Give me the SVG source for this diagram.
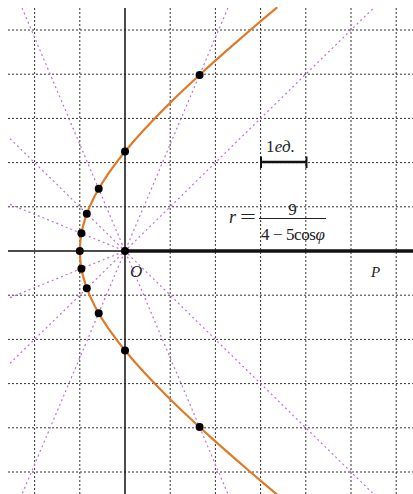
<svg xmlns="http://www.w3.org/2000/svg" width="413" height="494" viewBox="0 0 413 494">
<style>
.grid{stroke:#333;stroke-width:1;stroke-dasharray:2,2;fill:none}
.ray{stroke:#c070d0;stroke-width:1.2;stroke-dasharray:2,3;fill:none}
.axis{stroke:#111;fill:none}
.curve{stroke:#e07a28;stroke-width:2.2;fill:none;stroke-linejoin:round;stroke-linecap:round}
.pt{fill:#000}
.lbl{font-family:"Liberation Serif","DejaVu Serif",serif;fill:#222}
</style>
<rect width="413" height="494" fill="#fff"/>
<g id="grid">
<line class="grid" x1="34.6" y1="8" x2="34.6" y2="494"/>
<line class="grid" x1="79.8" y1="8" x2="79.8" y2="494"/>
<line class="grid" x1="170.2" y1="8" x2="170.2" y2="494"/>
<line class="grid" x1="215.4" y1="8" x2="215.4" y2="494"/>
<line class="grid" x1="260.6" y1="8" x2="260.6" y2="494"/>
<line class="grid" x1="305.8" y1="8" x2="305.8" y2="494"/>
<line class="grid" x1="351" y1="8" x2="351" y2="494"/>
<line class="grid" x1="396.2" y1="8" x2="396.2" y2="494"/>
<line class="grid" x1="8" y1="30" x2="413" y2="30"/>
<line class="grid" x1="8" y1="74.2" x2="413" y2="74.2"/>
<line class="grid" x1="8" y1="118.4" x2="413" y2="118.4"/>
<line class="grid" x1="8" y1="162.6" x2="413" y2="162.6"/>
<line class="grid" x1="8" y1="206.8" x2="413" y2="206.8"/>
<line class="grid" x1="8" y1="295.2" x2="413" y2="295.2"/>
<line class="grid" x1="8" y1="339.4" x2="413" y2="339.4"/>
<line class="grid" x1="8" y1="383.6" x2="413" y2="383.6"/>
<line class="grid" x1="8" y1="427.8" x2="413" y2="427.8"/>
<line class="grid" x1="8" y1="472" x2="413" y2="472"/>
</g>
<g id="connectors">
<line class="ray" x1="22.1" y1="8" x2="227.9" y2="494"/>
<line class="ray" x1="227.9" y1="8" x2="22.1" y2="494"/>
<line class="ray" x1="10" y1="138.6" x2="373.5" y2="494"/>
<line class="ray" x1="10" y1="363.4" x2="373.5" y2="8"/>
<line class="ray" x1="10" y1="204.4" x2="125" y2="251"/>
<line class="ray" x1="10" y1="297.6" x2="125" y2="251"/>
</g>
<g id="axes">
<line class="axis" x1="125" y1="8" x2="125" y2="494" stroke-width="1.5"/>
<line class="axis" x1="8" y1="251" x2="125" y2="251" stroke-width="1.5"/>
<line class="axis" x1="125" y1="251" x2="413" y2="251" stroke-width="3.5"/>
</g>
<g id="curve">
<polyline class="curve" points="276.57,7.9 263.41,18.95 250.41,30 237.58,41.05 224.94,52.1 212.52,63.15 200.33,74.2 188.42,85.25 176.82,96.3 165.56,107.35 154.69,118.4 144.27,129.45 134.35,140.5 125,151.55 116.29,162.6 108.31,173.65 101.14,184.7 94.87,195.75 89.58,206.8 85.36,217.85 82.29,228.9 80.43,239.95 79.8,251 80.43,262.05 82.29,273.1 85.36,284.15 89.58,295.2 94.87,306.25 101.14,317.3 108.31,328.35 116.29,339.4 125,350.45 134.35,361.5 144.27,372.55 154.69,383.6 165.56,394.65 176.82,405.7 188.42,416.75 200.33,427.8 212.52,438.85 224.94,449.9 237.58,460.95 250.41,472 263.41,483.05 276.57,494.1"/>
</g>
<g id="points">
<circle class="pt" cx="199.6" cy="74.9" r="4"/>
<circle class="pt" cx="125" cy="151.55" r="4"/>
<circle class="pt" cx="98.7" cy="188.85" r="4"/>
<circle class="pt" cx="86.8" cy="213.7" r="4"/>
<circle class="pt" cx="81.4" cy="233.3" r="4"/>
<circle class="pt" cx="79.8" cy="251" r="4"/>
<circle class="pt" cx="81.4" cy="268.7" r="4"/>
<circle class="pt" cx="86.8" cy="288.3" r="4"/>
<circle class="pt" cx="98.7" cy="313.15" r="4"/>
<circle class="pt" cx="125" cy="350.45" r="4"/>
<circle class="pt" cx="199.6" cy="427.1" r="4"/>
<circle class="pt" cx="125" cy="251" r="4"/>
</g>
<g id="scale">
<line x1="261" y1="162" x2="306.5" y2="162" stroke="#111" stroke-width="2.5"/>
<line x1="261" y1="156.5" x2="261" y2="168" stroke="#111" stroke-width="2"/>
<line x1="306.5" y1="156.5" x2="306.5" y2="168" stroke="#111" stroke-width="2"/>
<text class="lbl" x="266" y="152" font-size="17" textLength="29" lengthAdjust="spacing">1<tspan font-style="italic">ед.</tspan></text>
</g>
<g id="formula">
<text class="lbl" x="229" y="223" font-size="18" font-style="italic">r</text>
<text class="lbl" x="240" y="223" font-size="18" textLength="16" lengthAdjust="spacingAndGlyphs">=</text>
<line x1="259" y1="218.5" x2="326" y2="218.5" stroke="#222" stroke-width="1"/>
<text class="lbl" x="292.5" y="215" font-size="17" text-anchor="middle">9</text>
<text class="lbl" x="261" y="240" font-size="17" textLength="64" lengthAdjust="spacing">4 − 5cos<tspan font-style="italic">φ</tspan></text>
</g>
<g id="labels">
<text class="lbl" x="130" y="277" font-size="17" font-style="italic" fill="#555">O</text>
<text class="lbl" x="371" y="277" font-size="15" font-style="italic" fill="#333">P</text>
</g>
</svg>
